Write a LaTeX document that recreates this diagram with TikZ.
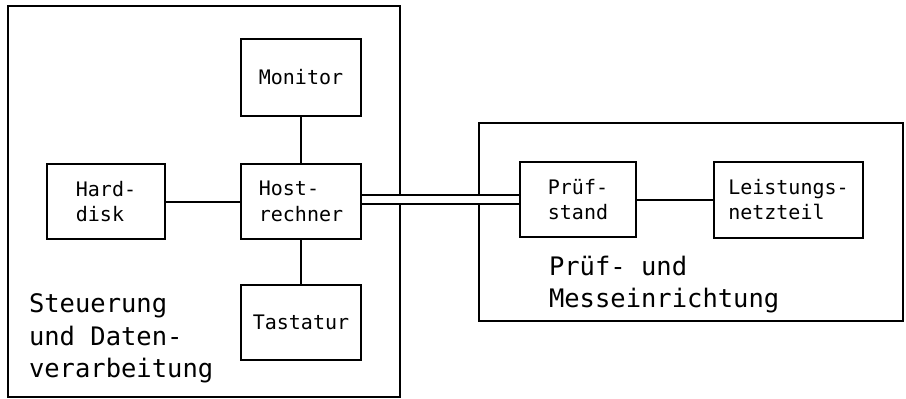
\documentclass[tikz,border=0pt]{standalone}
\usepackage{fontspec}
\setmonofont{DejaVu Sans Mono}
\newcommand\smallbf{\ttfamily\fontsize{20}{25.5}\selectfont}
\newcommand\largebf{\ttfamily\fontsize{25.5}{32.5}\selectfont}
\begin{document}
\begin{tikzpicture}[x=1pt,y=-1pt,
  every path/.style={line width=2pt},
  unit/.style={draw, line width=2pt, inner sep=0pt, font=\smallbf, align=left},
  group/.style={draw, line width=2pt, inner sep=0pt},
  lbl/.style={font=\largebf, inner sep=0pt, anchor=base west}]
\useasboundingbox (0,0) rectangle (906,399);
% group frames
\node[group, minimum width=392pt, minimum height=391pt] (steu) at (204,201.5) {};
\node[group, minimum width=424pt, minimum height=198pt] (mess) at (691,222) {};
% units
\node[unit, minimum width=120pt, minimum height=77pt] (mon) at (301,77.5) {Monitor};
\node[unit, minimum width=120pt, minimum height=75pt] (host) at (301,201.5) {Host-\\rechner};
\node[unit, minimum width=118pt, minimum height=75pt] (hd) at (106,201.5) {Hard-\\disk};
\node[unit, minimum width=120pt, minimum height=75pt] (tast) at (301,322.5) {Tastatur};
\node[unit, minimum width=116pt, minimum height=75pt] (pst) at (578,199.5) {Prüf-\\stand};
\node[unit, minimum width=149pt, minimum height=76pt] (lnt) at (788.5,199.5) {Leistungs-\\netzteil};
% connectors
\draw (mon) -- (host);
\draw (host) -- (tast);
\draw (hd) -- (host);
\draw (pst) -- (lnt);
\draw[double, double distance=7pt] (pst.west -| host.east) -- (pst.west);
% group labels
\node[lbl] (s1) at (28,312.5) {Steuerung};
\node[lbl] (s2) at (28,345) {und Daten-};
\node[lbl] (s3) at (28,377.5) {verarbeitung};
\node[lbl] (m1) at (548,275) {Prüf- und};
\node[lbl] (m2) at (548,307) {Messeinrichtung};
\end{tikzpicture}
\end{document}
